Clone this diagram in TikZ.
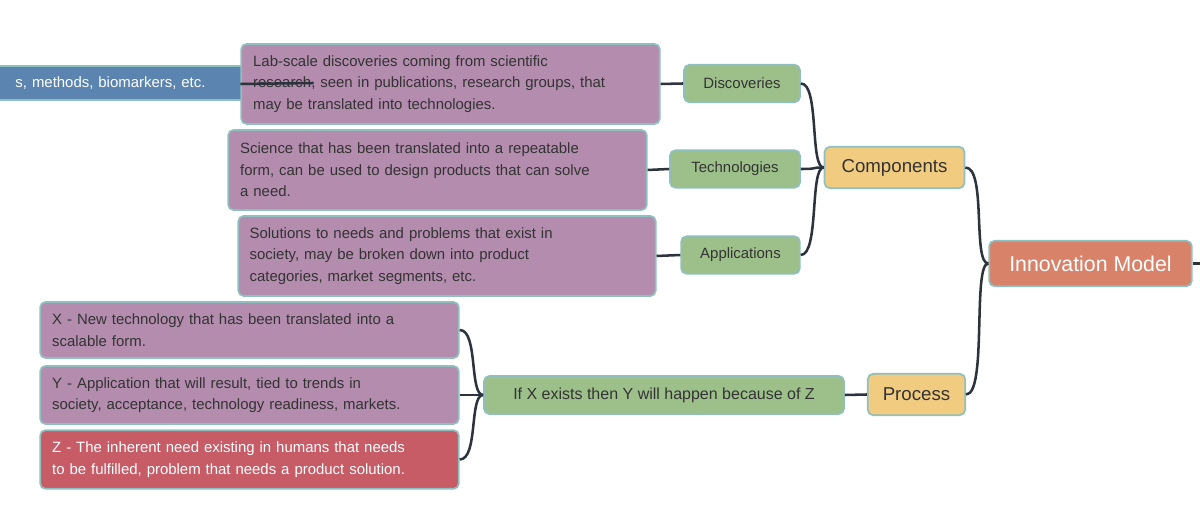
\documentclass[tikz,border=0pt]{standalone}
\usepackage{fontspec}
\setmainfont{Liberation Sans}
\begin{document}
\begin{tikzpicture}[x=0.75pt,y=-0.75pt,
  box/.style={draw=edgec,line width=1.3pt,rounded corners=4pt,inner sep=0pt,font=\fontsize{11.2}{16}\selectfont,text=textc},
  pbox/.style={box,fill=purp,align=left},
  gbox/.style={box,fill=grn},
  ybox/.style={box,fill=yel,font=\fontsize{14}{17}\selectfont},
  conn/.style={draw=linec,line width=1.9pt}]
\definecolor{edgec}{HTML}{8FBFBF}
\definecolor{purp}{HTML}{B38CAE}
\definecolor{grn}{HTML}{9DC08B}
\definecolor{yel}{HTML}{F0CB80}
\definecolor{redb}{HTML}{C75B66}
\definecolor{blu}{HTML}{5B84B1}
\definecolor{sal}{HTML}{D9826A}
\definecolor{linec}{HTML}{2C333D}
\definecolor{textc}{HTML}{333333}
\useasboundingbox (0,0) rectangle (1200,530);
% blue clipped box
\node[box,fill=blu,minimum width=260\pgflinewidth,minimum height=25.5pt,text width=177pt,align=right,text=white] (blue) at (87.5,83) {s, methods, biomarkers, etc.};
\node[pbox,minimum width=314pt,minimum height=60pt,text width=296pt] (p1) at (450.5,84) {Lab-scale discoveries coming from scientific\\research, seen in publications, research groups, that\\may be translated into technologies.};
\node[pbox,minimum width=314pt,minimum height=60pt,text width=296pt] (p2) at (437.5,170) {Science that has been translated into a repeatable\\form, can be used to design products that can solve\\a need.};
\node[pbox,minimum width=313pt,minimum height=60pt,text width=296pt] (p3) at (447,256) {Solutions to needs and problems that exist in\\society, may be broken down into product\\categories, market segments, etc.};
\node[gbox,minimum width=87pt,minimum height=28pt] (disc) at (742,83.5) {Discoveries};
\node[gbox,minimum width=97.5pt,minimum height=28pt] (tech) at (735,169) {Technologies};
\node[gbox,minimum width=89pt,minimum height=28pt] (appl) at (740.5,255) {Applications};
\node[ybox,minimum width=105pt,minimum height=31pt] (comp) at (894.5,167.5) {Components};
\node[box,fill=sal,text=white,font=\fontsize{16}{19}\selectfont,minimum width=152pt,minimum height=34pt] (innov) at (1090.5,263.5) {Innovation Model};
\coordinate (rend) at (1205,263.5);
\node[ybox,minimum width=73pt,minimum height=31pt] (proc) at (916.5,394.5) {Process};
\node[gbox,minimum width=270pt,minimum height=28.5pt,font=\fontsize{12}{16}\selectfont] (ifx) at (664,395) {If X exists then Y will happen because of Z};
\node[pbox,minimum width=314pt,minimum height=42pt,text width=296pt] (x) at (249.5,330) {X - New technology that has been translated into a\\scalable form.};
\node[pbox,minimum width=314pt,minimum height=43.5pt,text width=296pt] (y) at (249.5,395) {Y - Application that will result, tied to trends in\\society, acceptance, technology readiness, markets.};
\node[pbox,fill=redb,text=white,minimum width=314pt,minimum height=44pt,text width=296pt] (z) at (249.5,459.5) {Z - The inherent need existing in humans that needs\\to be fulfilled, problem that needs a product solution.};
% connectors
\path[conn] (blue.east) -- (p1.west);
\path[conn] (disc.west) -- (p1.east);
\path[conn] (tech.west) -- (p2.east);
\path[conn] (appl.west) -- (p3.east);
\foreach \c in {disc,tech,appl}
  \path[conn] (comp.west) .. controls ++(-14,0) and ([xshift=14]\c.east) .. (\c.east);
\foreach \c in {comp,proc}
  \path[conn] (innov.west) .. controls ++(-16,0) and ([xshift=16]\c.east) .. (\c.east);
\path[conn] (innov.east) -- (rend);
\path[conn] (proc.west) -- (ifx.east);
\foreach \c in {x,y,z}
  \path[conn] (ifx.west) .. controls ++(-14,0) and ([xshift=14]\c.east) .. (\c.east);
\end{tikzpicture}
\end{document}
